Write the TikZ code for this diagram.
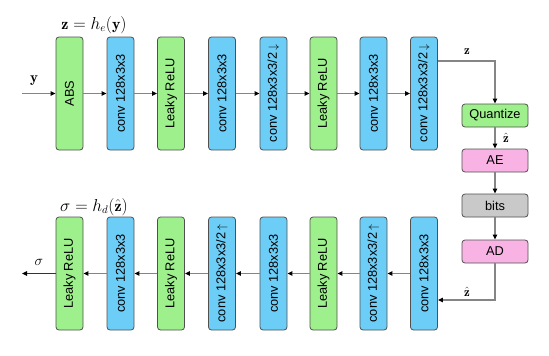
\documentclass[tikz,border=0pt]{standalone}
\usepackage{fontspec}
\setsansfont{Liberation Sans}
\usetikzlibrary{arrows.meta}
\definecolor{bgreen}{HTML}{9EF08C}
\definecolor{bblue}{HTML}{6CCDF7}
\definecolor{bpink}{HTML}{F8B3E4}
\definecolor{bgray}{HTML}{C9C9C9}
\definecolor{bord}{HTML}{505050}
\definecolor{lgray}{HTML}{858585}
\tikzset{
  blk/.style={draw=bord, line width=0.8pt, rounded corners=3pt, minimum width=27pt, minimum height=113pt, inner sep=0pt},
  vtext/.style={font=\sffamily\fontsize{12.8}{12.8}\selectfont, rotate=90},
  gblk/.style={blk, fill=bgreen},
  cblk/.style={blk, fill=bblue},
  rblk/.style={draw=bord, line width=0.8pt, rounded corners=3pt, minimum width=66pt, minimum height=23pt, inner sep=0pt, font=\sffamily\fontsize{12.8}{12.8}\selectfont},
  conn/.style={draw=lgray, line width=1.2pt, -{Triangle[black,length=5pt,width=4.5pt]}},
  lbl/.style={font=\fontsize{15}{15}\selectfont, inner sep=0pt},
  slbl/.style={font=\fontsize{13}{13}\selectfont, inner sep=0pt},
}
\begin{document}
\begin{tikzpicture}[x=1pt,y=-1pt]
\useasboundingbox (0,0) rectangle (549,356);
% top row
\node[gblk] (t1) at (69.5,93.5) {};
\node[vtext] at (t1) {ABS};
\node[cblk] (t2) at (120.5,93.5) {};
\node[vtext] at (t2) {conv 128x3x3};
\node[gblk] (t3) at (171,93.5) {};
\node[vtext] at (t3) {Leaky ReLU};
\node[cblk] (t4) at (222,93.5) {};
\node[vtext] at (t4) {conv 128x3x3};
\node[cblk] (t5) at (273.5,93.5) {};
\node[vtext] at (t5) {conv 128x3x3/2\,$\downarrow$};
\node[gblk] (t6) at (323.5,93.5) {};
\node[vtext] at (t6) {Leaky ReLU};
\node[cblk] (t7) at (373.5,93.5) {};
\node[vtext] at (t7) {conv 128x3x3};
\node[cblk] (t8) at (424,93.5) {};
\node[vtext] at (t8) {conv 128x3x3/2\,$\downarrow$};
% bottom row
\node[gblk] (b1) at (69.5,273.5) {};
\node[vtext] at (b1) {Leaky ReLU};
\node[cblk] (b2) at (120.5,273.5) {};
\node[vtext] at (b2) {conv 128x3x3};
\node[gblk] (b3) at (171,273.5) {};
\node[vtext] at (b3) {Leaky ReLU};
\node[cblk] (b4) at (222,273.5) {};
\node[vtext] at (b4) {conv 128x3x3/2\,$\uparrow$};
\node[cblk] (b5) at (273.5,273.5) {};
\node[vtext] at (b5) {conv 128x3x3};
\node[gblk] (b6) at (323.5,273.5) {};
\node[vtext] at (b6) {Leaky ReLU};
\node[cblk] (b7) at (373.5,273.5) {};
\node[vtext] at (b7) {conv 128x3x3/2\,$\uparrow$};
\node[cblk] (b8) at (424,273.5) {};
\node[vtext] at (b8) {conv 128x3x3};
% right column
\node[rblk, fill=bgreen] (q) at (495,115.5) {Quantize};
\node[rblk, fill=bpink] (ae) at (495,160.5) {AE};
\node[rblk, fill=bgray] (bits) at (495,205.5) {bits};
\node[rblk, fill=bpink] (ad) at (495,251.5) {AD};
% titles
\node[font=\fontsize{16}{16}\selectfont, inner sep=0pt] (ttop) at (94,25) {$\mathbf{z}=h_e(\mathbf{y})$};
\node[font=\fontsize{16}{16}\selectfont, inner sep=0pt] (tbot) at (94,207) {$\sigma=h_d(\hat{\mathbf{z}})$};
% coordinates
\coordinate (in) at (22,93.5);
\coordinate (out) at (22,273.5);
\coordinate (zc) at (495,61);
\coordinate (zh) at (495,300);
% connectors top
\draw[conn] (in) -- (t1);
\draw[conn] (t1) -- (t2);
\draw[conn] (t2) -- (t3);
\draw[conn] (t3) -- (t4);
\draw[conn] (t4) -- (t5);
\draw[conn] (t5) -- (t6);
\draw[conn] (t6) -- (t7);
\draw[conn] (t7) -- (t8);
\draw[conn] (t8.east |- zc) -- (zc) -- (q.north);
\draw[conn] (q) -- (ae);
\draw[conn] (ae) -- (bits);
\draw[conn] (bits) -- (ad);
\draw[conn] (ad.south) -- (zh) -- (b8.east |- zh);
% connectors bottom
\draw[conn] (b8) -- (b7);
\draw[conn] (b7) -- (b6);
\draw[conn] (b6) -- (b5);
\draw[conn] (b5) -- (b4);
\draw[conn] (b4) -- (b3);
\draw[conn] (b3) -- (b2);
\draw[conn] (b2) -- (b1);
\draw[conn, draw=black!80] (b1) -- (out);
% labels
\node[lbl] (ly) at (34,81) {$\mathbf{y}$};
\node[lbl] (ls) at (39,262) {$\sigma$};
\node[slbl] (lz) at (467,52) {$\mathbf{z}$};
\node[slbl] (lzh) at (506,138) {$\hat{\mathbf{z}}$};
\node[slbl] (lzh2) at (467,292) {$\hat{\mathbf{z}}$};
\end{tikzpicture}
\end{document}
